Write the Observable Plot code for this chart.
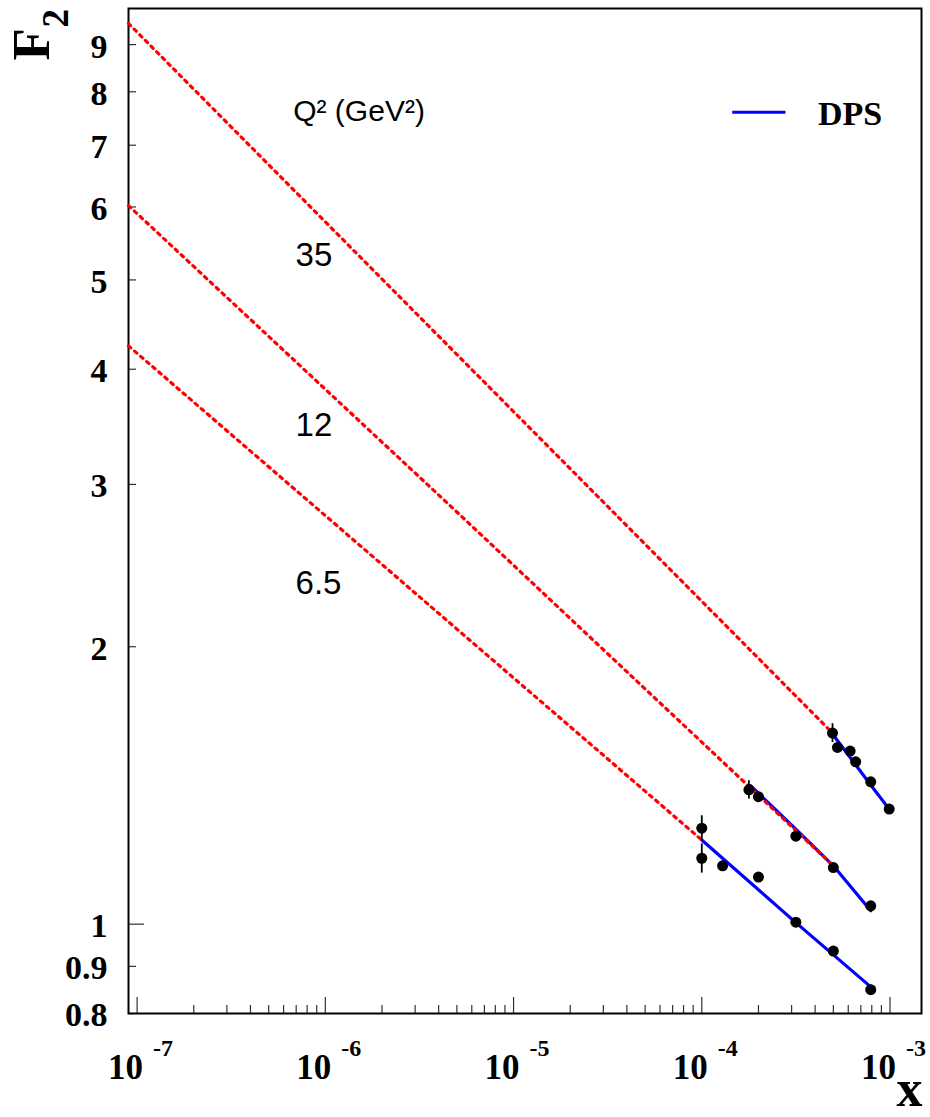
<!DOCTYPE html>
<html><head><meta charset="utf-8">
<script src="https://cdn.jsdelivr.net/npm/d3@7"></script>
<script src="https://cdn.jsdelivr.net/npm/@observablehq/plot@0.6"></script>
<style>
body{margin:0;background:#fff;}
#chart{width:930px;height:1117px;}
</style>
</head><body><div id="chart"></div>
<script>
// ---- data ----
const q2Labels = ["35", "12", "6.5"];

// measured F2 points (x, F2, error)
const x35 = [4.95e-4, 5.26e-4, 6.14e-4, 6.57e-4, 7.9e-4, 9.9e-4];
const f35 = [1.612, 1.555, 1.541, 1.500, 1.427, 1.333];
const e35 = [0.038, 0.01, 0.01, 0.01, 0.01, 0.01];

const x12 = [1.78e-4, 2.0e-4, 3.16e-4, 5.0e-4, 7.9e-4];
const f12 = [1.399, 1.375, 1.246, 1.152, 1.047];
const e12 = [0.032, 0.012, 0.01, 0.01, 0.01];

const x65 = [1.0e-4, 1.0e-4, 1.29e-4, 2.0e-4, 3.16e-4, 5.0e-4, 7.9e-4];
const f65 = [1.271, 1.179, 1.157, 1.125, 1.005, 0.935, 0.849];
const e65 = [0.04, 0.043, 0.013, 0.01, 0.01, 0.01, 0.01];

// DPS model curves (blue)
const dps35x = [4.95e-4, 7.9e-4, 9.9e-4];
const dps35 = [1.608, 1.416, 1.333];
const dps12x = [1.82e-4, 3.16e-4, 5.0e-4, 7.9e-4];
const dps12 = [1.413, 1.268, 1.157, 1.034];
const dps65x = [1.0e-4, 3.16e-4, 7.9e-4];
const dps65 = [1.234, 1.004, 0.855];

// extrapolations (red dotted)
const ext35x = [9.0e-8, 5.0e-6, 4.95e-4];
const ext35 = [9.49, 4.15, 1.612];
const ext12x = [9.0e-8, 5.0e-6, 5.0e-4];
const ext12 = [6.02, 2.80, 1.157];
const ext65x = [9.0e-8, 5.0e-6, 1.0e-4];
const ext65 = [4.24, 2.09, 1.234];

// axis tick labels
const yTickValues = [0.8, 0.9, 1, 2, 3, 4, 5, 6, 7, 8, 9];
const yTickLabels = ["0.8", "0.9", "1", "2", "3", "4", "5", "6", "7", "8", "9"];
const xDecades = [1e-7, 1e-6, 1e-5, 1e-4, 1e-3];
const xExponents = ["-7", "-6", "-5", "-4", "-3"];
const legendLabel = "DPS";

// ---- build tables ----
const pts = [];
[[x35, f35, e35, "35"], [x12, f12, e12, "12"], [x65, f65, e65, "6.5"]].forEach(([xs, fs, es, q]) =>
  xs.forEach((x, i) => pts.push({x, f: fs[i], e: es[i], q})));
const dps = [];
[[dps35x, dps35, "35"], [dps12x, dps12, "12"], [dps65x, dps65, "6.5"]].forEach(([xs, fs, q]) =>
  xs.forEach((x, i) => dps.push({x, f: fs[i], q})));
const ext = [];
[[ext35x, ext35, "35"], [ext12x, ext12, "12"], [ext65x, ext65, "6.5"]].forEach(([xs, fs, q]) =>
  xs.forEach((x, i) => ext.push({x, f: fs[i], q})));

const xAll = d3.scaleLog().domain([1e-7, 1e-3]).ticks();
const xMinor = xAll.filter(v => !xDecades.some(d => Math.abs(d - v) / d < 1e-6));
const yAll = d3.scaleLog().domain([0.8, 9.85]).ticks();
const yMajor = [1];
const yMinor = yAll.filter(v => v !== 1);

const serif = "Liberation Serif, Times New Roman, serif";
const sans = "Liberation Sans, Arial, sans-serif";
const frameH = 1005, frameW = 793;

const plot = Plot.plot({
  width: 930, height: 1117,
  marginTop: 8, marginLeft: 128, marginRight: 9, marginBottom: 104,
  x: {type: "log", domain: [9.0e-8, 1.47e-3], axis: null},
  y: {type: "log", domain: [0.8, 9.85], axis: null},
  style: {background: "#fff", overflow: "visible"},
  marks: [
    Plot.tickX(xMinor, {x: d => d, insetTop: frameH - 8, stroke: "#333", strokeWidth: 1.2}),
    Plot.tickX(xDecades, {x: d => d, insetTop: frameH - 16, stroke: "#333", strokeWidth: 1.2}),
    Plot.tickY(yMinor, {y: d => d, insetRight: frameW - 8, stroke: "#333", strokeWidth: 1.2}),
    Plot.tickY(yMajor, {y: d => d, insetRight: frameW - 16, stroke: "#333", strokeWidth: 1.2}),
    Plot.frame({stroke: "#000", strokeWidth: 2}),
    // y tick labels
    Plot.text(yTickValues, {y: d => d, text: (d, i) => yTickLabels[i], frameAnchor: "left", textAnchor: "end",
      dx: -21, dy: 2, fontSize: 34, fontWeight: "bold", fontFamily: serif, fill: "#000"}),
    // x tick labels 10^k
    Plot.text(xDecades, {x: d => d, text: () => "10", frameAnchor: "bottom", textAnchor: "end", lineAnchor: "bottom",
      dx: 6, dy: 65, fontSize: 35, fontWeight: "bold", fontFamily: serif, fill: "#000", ariaLabel: "xten"}),
    Plot.text(xDecades, {x: d => d, text: (d, i) => xExponents[i], frameAnchor: "bottom", textAnchor: "start", lineAnchor: "bottom",
      dx: 16, dy: 42, fontSize: 24, fontWeight: "bold", fontFamily: serif, fill: "#000", ariaLabel: "xexp"}),
    // axis titles
    Plot.text(["x"], {frameAnchor: "bottom-right", textAnchor: "end", lineAnchor: "bottom", dx: 1, dy: 92,
      fontSize: 52, fontWeight: "bold", fontFamily: serif, fill: "#000"}),
    Plot.text(["F"], {frameAnchor: "top-left", rotate: -90, textAnchor: "start", lineAnchor: "bottom", dx: -80, dy: 52,
      fontSize: 53, fontWeight: "bold", fontFamily: serif, fill: "#000"}),
    Plot.text(["2"], {frameAnchor: "top-left", rotate: -90, textAnchor: "start", lineAnchor: "bottom", dx: -61, dy: 19,
      fontSize: 37, fontWeight: "bold", fontFamily: serif, fill: "#000"}),
    // curves
    Plot.line(dps, {x: "x", y: "f", z: "q", stroke: "#0000ff", strokeWidth: 3.2}),
    Plot.line(ext, {x: "x", y: "f", z: "q", stroke: "#ff0000", strokeWidth: 3.2, strokeDasharray: "3,5"}),
    // data
    Plot.ruleX(pts.filter(d => d.e > 0), {x: "x", y1: d => d.f - d.e, y2: d => d.f + d.e, stroke: "#000", strokeWidth: 1.8}),
    Plot.dot(pts, {x: "x", y: "f", r: 5.5, fill: "#000", stroke: "none"}),
    // annotations
    Plot.text(["Q² (GeV²)"], {x: 6.75e-7, y: 7.62, textAnchor: "start", lineAnchor: "middle",
      fontSize: 30, fontFamily: sans, fill: "#000"}),
    Plot.text(q2Labels, {x: 6.95e-7, y: [5.32, 3.48, 2.344], text: d => d, textAnchor: "start", lineAnchor: "middle",
      fontSize: 33, fontFamily: sans, fill: "#000"}),
    // legend
    Plot.ruleY([7.6], {x1: 1.46e-4, x2: 2.8e-4, stroke: "#0000ff", strokeWidth: 3}),
    Plot.text([legendLabel], {x: 4.14e-4, y: 7.56, textAnchor: "start", lineAnchor: "middle",
      fontSize: 34, fontWeight: "bold", fontFamily: serif, fill: "#000"})
  ]
});

// vertically stretch the x tick labels like the reference rendering
d3.select(plot).selectAll('g[aria-label="xten"] text, g[aria-label="xexp"] text').each(function () {
  const t = this.getAttribute("transform") || "";
  const s = this.parentNode.getAttribute("aria-label") === "xten" ? 1.4 : 1.5;
  this.setAttribute("transform", t + ` scale(1,${s})`);
});

document.getElementById("chart").appendChild(plot);
</script>
</body></html>
